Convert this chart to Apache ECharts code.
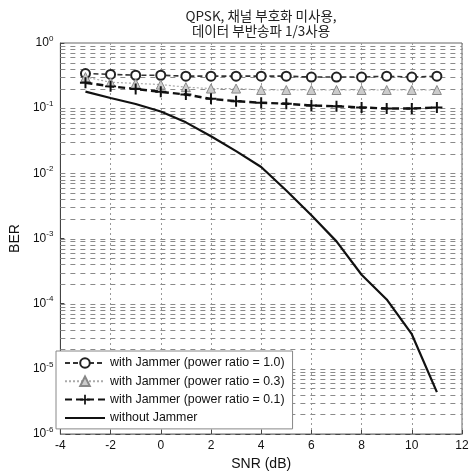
<!DOCTYPE html>
<html>
<head>
<meta charset="utf-8">
<script src="https://cdn.jsdelivr.net/npm/echarts@6/dist/echarts.min.js"></script>
<style>html,body{margin:0;padding:0;background:#fff}#c{width:475px;height:476px}</style>
</head>
<body>
<div id="c"></div>
<script>
const snr = [-3,-2,-1,0,1,2,3,4,5,6,7,8,9,10,11];
const berJam10 = [0.34,0.33,0.32,0.32,0.31,0.31,0.31,0.31,0.31,0.30,0.30,0.30,0.31,0.30,0.31];
const berJam03 = [0.30,0.25,0.24,0.23,0.21,0.20,0.20,0.19,0.19,0.19,0.19,0.19,0.19,0.19,0.19];
const berJam01 = [0.246,0.216,0.197,0.178,0.162,0.139,0.128,0.121,0.117,0.110,0.107,0.1025,0.099,0.099,0.1025];
const berNoJam = [0.1795,0.143,0.116,0.0891,0.0606,0.0371,0.0219,0.0125,0.00545,0.00227,0.000903,0.000278,0.000116,0.000034,0.0000044];
const seriesNames = ['with Jammer (power ratio = 1.0)','with Jammer (power ratio = 0.3)','with Jammer (power ratio = 0.1)','without Jammer'];
const titleLines = ['QPSK, 채널 부호화 미사용,','데이터 부반송파 1/3사용'];
const xTitle = 'SNR (dB)';
const yTitle = 'BER';
const xMin = -4, xMax = 12;

const minorLevels = [];
for (let k = -6; k <= -1; k++) {
  for (let m = 1; m <= 9; m++) minorLevels.push(+(m * Math.pow(10, k)).toPrecision(3));
}

const pair = (ys) => snr.map((x, i) => [x, ys[i]]);
const plusPath = 'path://M-1,-0.18 L-0.18,-0.18 L-0.18,-1 L0.18,-1 L0.18,-0.18 L1,-0.18 L1,0.18 L0.18,0.18 L0.18,1 L-0.18,1 L-0.18,0.18 L-1,0.18 Z';
const font = '"Liberation Sans", Arial, sans-serif';

const chart = echarts.init(document.getElementById('c'), null, {renderer: 'canvas'});
chart.setOption({
  animation: false,
  backgroundColor: '#fff',
  title: {
    text: titleLines.join('\n'),
    left: 256, top: 3, textAlign: 'center',
    textStyle: {fontFamily: '"Noto Sans CJK KR", sans-serif', fontSize: 13.5, fontWeight: 'normal', color: '#222', lineHeight: 15}
  },
  grid: {left: 56, right: 13, top: 43, bottom: 39, show: true, borderColor: '#666', borderWidth: 1, backgroundColor: 'transparent'},
  legend: {
    orient: 'vertical', left: 56, top: 351,
    backgroundColor: '#fff', borderColor: '#888', borderWidth: 1,
    padding: [6, 8, 5, 8], itemGap: 6.3, itemWidth: 40, itemHeight: 12,
    textStyle: {fontFamily: font, fontSize: 12.4, color: '#111'},
    data: [seriesNames[0], seriesNames[1], seriesNames[2],
           {name: seriesNames[3], itemStyle: {opacity: 0}}]
  },
  xAxis: {
    type: 'value', min: xMin, max: xMax, interval: 2,
    name: xTitle, nameLocation: 'middle', nameGap: 23,
    nameTextStyle: {fontFamily: font, fontSize: 14, color: '#111'},
    axisLine: {onZero: false, lineStyle: {color: '#444'}},
    axisTick: {inside: true, length: 4, lineStyle: {color: '#444'}},
    axisLabel: {fontFamily: font, fontSize: 12, color: '#111', margin: 6},
    splitLine: {show: true, lineStyle: {color: '#999', type: [2, 3], width: 1}}
  },
  yAxis: {
    type: 'log', logBase: 10, min: 1e-6, max: 1,
    name: yTitle, nameLocation: 'middle', nameGap: 30, nameRotate: 90,
    nameTextStyle: {fontFamily: font, fontSize: 14, color: '#111'},
    axisLine: {onZero: false, lineStyle: {color: '#444'}},
    axisTick: {inside: true, length: 4, lineStyle: {color: '#444'}},
    axisLabel: {
      margin: 7,
      formatter: (v) => '{b|10}{s|' + Math.round(Math.log10(v)) + '}',
      rich: {
        b: {fontFamily: font, fontSize: 12, color: '#111'},
        s: {fontFamily: font, fontSize: 8, color: '#111', padding: [0, 0, 9, 0]}
      }
    },
    splitLine: {show: false}
  },
  series: [
    {
      name: 'grid', type: 'custom', silent: true, z: 1,
      data: minorLevels.map(v => [xMin, v]),
      encode: {x: 0, y: 1},
      renderItem: (params, api) => {
        const v = api.value(1);
        const p1 = api.coord([xMin, v]);
        const p2 = api.coord([xMax, v]);
        const y = Math.round(p1[1]) + 0.5;
        return {type: 'line', shape: {x1: p1[0], y1: y, x2: p2[0], y2: y},
                style: {stroke: '#8a8a8a', lineDash: [5, 5], lineWidth: 1}};
      }
    },
    {
      name: seriesNames[0], type: 'line', data: pair(berJam10), z: 3,
      symbol: 'emptyCircle', symbolSize: 9,
      lineStyle: {color: '#333', width: 1.6, type: [5, 3]},
      itemStyle: {color: '#222', borderWidth: 1.8}
    },
    {
      name: seriesNames[1], type: 'line', data: pair(berJam03), z: 3,
      symbol: 'triangle', symbolSize: 9,
      lineStyle: {color: '#aaa', width: 1.2, type: [2, 2]},
      itemStyle: {color: '#ccc', borderColor: '#888', borderWidth: 1}
    },
    {
      name: seriesNames[2], type: 'line', data: pair(berJam01), z: 3,
      symbol: plusPath, symbolSize: 11,
      lineStyle: {color: '#111', width: 2.4, type: [7, 4]},
      itemStyle: {color: '#111'}
    },
    {
      name: seriesNames[3], type: 'line', data: pair(berNoJam), z: 3,
      symbol: 'none',
      lineStyle: {color: '#111', width: 2.2, type: 'solid'},
      itemStyle: {color: '#111'}
    }
  ]
});
</script>
</body>
</html>
